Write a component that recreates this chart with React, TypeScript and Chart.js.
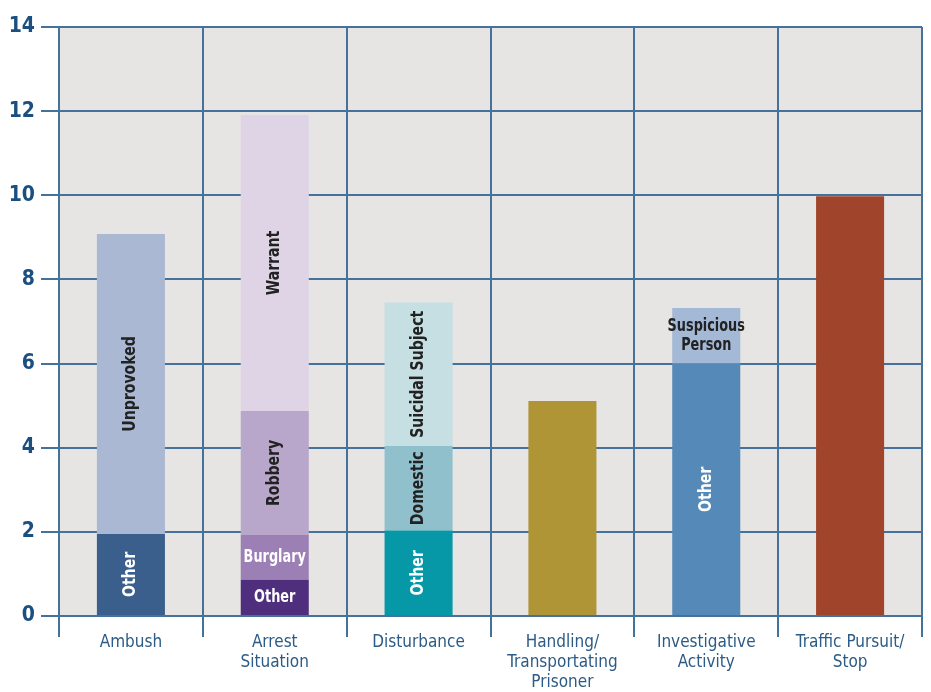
import React, { useEffect, useRef } from "react";
import { Chart, registerables } from "chart.js";

Chart.register(...registerables);

const categories: string[][] = [
  ["Ambush"],
  ["Arrest", "Situation"],
  ["Disturbance"],
  ["Handling/", "Transportating", "Prisoner"],
  ["Investigative", "Activity"],
  ["Traffic Pursuit/", "Stop"],
];

// stacked segments, bottom to top
const layer1Values = [1.95, 0.86, 2.03, 5.11, 6.0, 9.98];
const layer2Values = [7.13, 1.07, 2.01, 0, 1.32, 0];
const layer3Values = [0, 2.94, 3.41, 0, 0, 0];
const layer4Values = [0, 7.04, 0, 0, 0, 0];

const layer1Labels = ["Other", "Other", "Other", "", "Other", ""];
const layer2Labels = ["Unprovoked", "Burglary", "Domestic", "", "Suspicious\nPerson", ""];
const layer3Labels = ["", "Robbery", "Suicidal Subject", "", "", ""];
const layer4Labels = ["", "Warrant", "", "", "", ""];

const layer1Colors = ["#3a5f8c", "#4f2e7e", "#0698a6", "#b09537", "#5589b8", "#a0442c"];
const layer2Colors = ["#abb8d3", "#9b7fb5", "#8fc0cc", "#b09537", "#a3b9d6", "#a0442c"];
const layer3Colors = ["#abb8d3", "#b9a6cb", "#c5dfe3", "#b09537", "#a3b9d6", "#a0442c"];
const layer4Colors = ["#abb8d3", "#ded4e6", "#c5dfe3", "#b09537", "#a3b9d6", "#a0442c"];

const layer1TextColors = ["#ffffff", "#ffffff", "#ffffff", "#ffffff", "#ffffff", "#ffffff"];
const layer2TextColors = ["#222222", "#ffffff", "#222222", "#222222", "#222222", "#222222"];
const layer3TextColors = ["#222222", "#222222", "#222222", "#222222", "#222222", "#222222"];
const layer4TextColors = ["#222222", "#222222", "#222222", "#222222", "#222222", "#222222"];

// labels written horizontally instead of rotated
const horizontalLabels = ["Burglary", "Suspicious\nPerson"];
const arrestOtherHorizontal = true;

const yTicks = [0, 2, 4, 6, 8, 10, 12, 14];

const FONT = "'DejaVu Sans Condensed', 'Liberation Sans Narrow', 'Liberation Sans', sans-serif";
const GRID = "#44729b";

export default function App() {
  const ref = useRef<HTMLCanvasElement | null>(null);

  useEffect(() => {
    document.body.style.margin = "0";
    const canvas = ref.current;
    if (!canvas) return;

    const labelSets = [layer1Labels, layer2Labels, layer3Labels, layer4Labels];
    const textColorSets = [layer1TextColors, layer2TextColors, layer3TextColors, layer4TextColors];

    const bgPlugin = {
      id: "bgPlugin",
      beforeDraw(chart: any) {
        const { ctx, chartArea } = chart;
        ctx.save();
        ctx.fillStyle = "#e6e5e3";
        ctx.fillRect(chartArea.left, chartArea.top, chartArea.right - chartArea.left, chartArea.bottom - chartArea.top);
        ctx.restore();
      },
    };

    const SQUEEZE_H = 0.84;
    const SQUEEZE_R = 0.92;

    const segLabelPlugin = {
      id: "segLabelPlugin",
      afterDatasetsDraw(chart: any) {
        const { ctx } = chart;
        ctx.save();
        chart.data.datasets.forEach((ds: any, di: number) => {
          const meta = chart.getDatasetMeta(di);
          meta.data.forEach((bar: any, i: number) => {
            const text = labelSets[di][i];
            if (!text) return;
            const props = bar.getProps(["x", "y", "base"], true);
            const cy = (props.y + props.base) / 2;
            ctx.fillStyle = textColorSets[di][i];
            ctx.font = `bold 17px ${FONT}`;
            ctx.textAlign = "center";
            ctx.textBaseline = "middle";
            const horizontal = horizontalLabels.includes(text) || (arrestOtherHorizontal && di === 0 && i === 1);
            const lines = text.split("\n");
            if (horizontal) {
              const lh = 19;
              lines.forEach((ln: string, k: number) => {
                ctx.save();
                ctx.translate(props.x, cy + (k - (lines.length - 1) / 2) * lh);
                ctx.scale(SQUEEZE_H, 1);
                ctx.fillText(ln, 0, 0);
                ctx.restore();
              });
            } else {
              ctx.save();
              ctx.translate(props.x, cy);
              ctx.rotate(-Math.PI / 2);
              ctx.scale(SQUEEZE_R, 1);
              ctx.fillText(text, 0, 0);
              ctx.restore();
            }
          });
        });
        ctx.restore();
      },
    };

    const layers = [layer1Values, layer2Values, layer3Values, layer4Values];
    const colors = [layer1Colors, layer2Colors, layer3Colors, layer4Colors];

    const chart = new Chart(canvas, {
      type: "bar",
      data: {
        labels: categories,
        datasets: layers.map((vals, k) => ({
          label: `Layer ${k + 1}`,
          data: vals,
          backgroundColor: colors[k],
          borderWidth: 0,
          barPercentage: 0.473,
          categoryPercentage: 1,
        })),
      },
      options: {
        animation: false,
        responsive: true,
        maintainAspectRatio: false,
        layout: { padding: { top: 27, right: 9, left: 0, bottom: 0 } },
        plugins: {
          legend: { display: false },
          tooltip: { enabled: false },
          title: { display: false },
        },
        scales: {
          x: {
            stacked: true,
            offset: true,
            grid: {
              offset: true,
              color: GRID,
              lineWidth: 2,
              drawTicks: true,
              tickLength: 21,
              tickColor: GRID,
            },
            border: { display: false },
            ticks: {
              color: "#2b5b86",
              font: { family: FONT, size: 17 },
              padding: -5,
              maxRotation: 0,
              autoSkip: false,
            },
            afterFit(scale: any) {
              scale.height = 76;
            },
          },
          y: {
            stacked: true,
            min: 0,
            max: 14,
            afterBuildTicks(scale: any) {
              scale.ticks = yTicks.map((v) => ({ value: v }));
            },
            grid: {
              color: GRID,
              lineWidth: 2,
              drawTicks: true,
              tickLength: 18,
              tickColor: GRID,
            },
            border: { display: false },
            ticks: {
              color: "#1b4f80",
              font: { family: FONT, size: 21, weight: "bold" },
              padding: 6,
            },
            afterFit(scale: any) {
              scale.width = 59;
            },
          },
        },
      },
      plugins: [bgPlugin, segLabelPlugin],
    });

    return () => chart.destroy();
  }, []);

  return (
    <div style={{ position: "absolute", left: 0, top: 0, width: 931, height: 692 }}>
      <canvas ref={ref} />
    </div>
  );
}
